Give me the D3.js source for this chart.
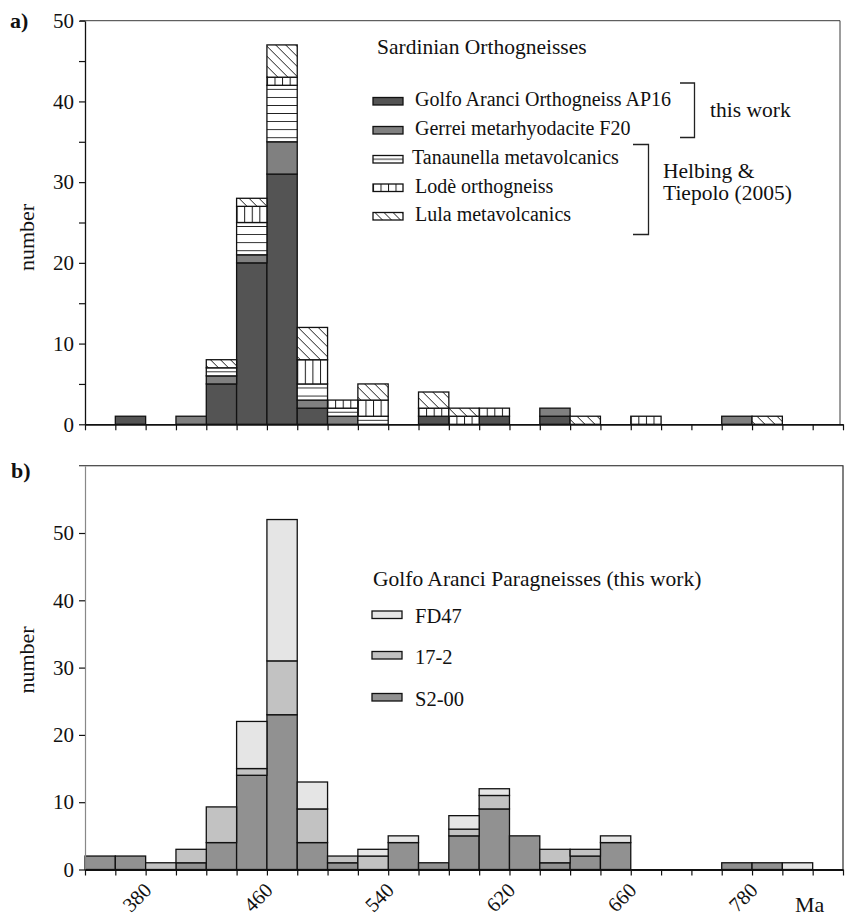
<!DOCTYPE html>
<html>
<head>
<meta charset="utf-8">
<script src="https://cdn.jsdelivr.net/npm/d3@7"></script>
<style>
  body { margin: 0; background: #fff; }
  svg { display: block; }
</style>
</head>
<body>
<svg id="chart" width="846" height="917"></svg>
<script>
// Lower bound (Ma) of each 20 Ma age bin
const binStarts = [340, 360, 380, 400, 420, 440, 460, 480, 500, 520, 540, 560, 580,
                   600, 620, 640, 660, 680, 700, 720, 740, 760, 780, 800, 820];
const binSize = 20;

// a) Sardinian orthogneisses: number of zircon ages per bin
const golfoAranciAP16 = [0, 1, 0, 0, 5, 20, 31, 2, 0, 0, 0, 1, 0, 1, 0, 1, 0, 0, 0, 0, 0, 0, 0, 0, 0];
const gerreiF20       = [0, 0, 0, 1, 1, 1, 4, 1, 1, 0, 0, 0, 0, 0, 0, 1, 0, 0, 0, 0, 0, 1, 0, 0, 0];
const tanaunella      = [0, 0, 0, 0, 1, 4, 7, 2, 1, 1, 0, 0, 0, 0, 0, 0, 0, 0, 0, 0, 0, 0, 0, 0, 0];
const lode            = [0, 0, 0, 0, 0, 2, 1, 3, 1, 2, 0, 1, 1, 1, 0, 0, 0, 0, 1, 0, 0, 0, 0, 0, 0];
const lula            = [0, 0, 0, 0, 1, 1, 4, 4, 0, 2, 0, 2, 1, 0, 0, 0, 1, 0, 0, 0, 0, 0, 1, 0, 0];

// b) Golfo Aranci paragneisses: number of zircon ages per bin
const s200  = [2, 2, 0, 1, 4, 14, 23, 4, 1, 0, 4, 1, 5, 9, 5, 1, 2, 4, 0, 0, 0, 1, 1, 0, 0];
const s172  = [0, 0, 1, 2, 5.3, 1, 8, 5, 1, 2, 0, 0, 1, 2, 0, 2, 1, 0, 0, 0, 0, 0, 0, 0, 0];
const fd47  = [0, 0, 0, 0, 0, 7, 21, 4, 0, 1, 1, 0, 2, 1, 0, 0, 0, 1, 0, 0, 0, 0, 0, 1, 0];

// Axis ticks
const countTicksA = [0, 5, 10, 15, 20, 25, 30, 35, 40, 45, 50];
const countTicksB = [0, 10, 20, 30, 40, 50];
const ageTickValues = [380, 460, 540, 620, 700, 780];
const ageTickLabels = ["380", "460", "540", "620", "660", "780"];

// Series names and fills
const seriesA = [
  { key: "ap16", name: "Golfo Aranci Orthogneiss AP16", values: golfoAranciAP16, fill: "#545454" },
  { key: "f20",  name: "Gerrei metarhyodacite F20",     values: gerreiF20,       fill: "#808080" },
  { key: "tan",  name: "Tanaunella metavolcanics",      values: tanaunella,      fill: "horiz" },
  { key: "lode", name: "Lodè orthogneiss",              values: lode,            fill: "vert" },
  { key: "lula", name: "Lula metavolcanics",            values: lula,            fill: "diag" }
];
const seriesB = [
  { key: "s200", name: "S2-00", values: s200, fill: "#919191" },
  { key: "s172", name: "17-2",  values: s172, fill: "#c2c2c2" },
  { key: "fd47", name: "FD47",  values: fd47, fill: "#e5e5e5" }
];
const legendOrderB = ["fd47", "s172", "s200"];

const serif = "'Liberation Serif', 'Times New Roman', Times, serif";
const svg = d3.select("#chart").attr("font-family", serif);
const defs = svg.append("defs");

// Shared age scale
const x = d3.scaleLinear().domain([340, 840]).range([85, 843]);
const binW = x(340 + binSize) - x(340);
const binEdges = binStarts.concat([binStarts[binStarts.length - 1] + binSize]);

// Hatch patterns (lines on white)
let patId = 0;
function hatch(kind, ox, oy, period) {
  const id = "hatch" + (patId++);
  const p = defs.append("pattern").attr("id", id).attr("patternUnits", "userSpaceOnUse")
    .attr("x", ox).attr("y", oy);
  const ink = "#1a1a1a";
  if (kind === "horiz") {
    p.attr("width", 40).attr("height", period);
    p.append("rect").attr("width", 40).attr("height", period).attr("fill", "#fff");
    p.append("line").attr("x1", 0).attr("x2", 40).attr("y1", period / 2).attr("y2", period / 2)
      .attr("stroke", ink).attr("stroke-width", 1);
  } else if (kind === "vert") {
    p.attr("width", period).attr("height", 40);
    p.append("rect").attr("width", period).attr("height", 40).attr("fill", "#fff");
    p.append("line").attr("x1", 0.5).attr("x2", 0.5).attr("y1", 0).attr("y2", 40)
      .attr("stroke", ink).attr("stroke-width", 1);
  } else {
    p.attr("width", period).attr("height", period);
    p.append("rect").attr("width", period).attr("height", period).attr("fill", "#fff");
    p.append("path")
      .attr("d", `M0,0L${period},${period}M${-period / 2},${period / 2}L${period / 2},${period * 1.5}M${period / 2},${-period / 2}L${period * 1.5},${period / 2}`)
      .attr("stroke", ink).attr("stroke-width", 1);
  }
  return `url(#${id})`;
}

function drawStack(g, series, y, fillFor) {
  const rows = binStarts.map((age, i) => {
    const r = { age };
    series.forEach(s => { r[s.key] = s.values[i]; });
    return r;
  });
  const layers = d3.stack().keys(series.map(s => s.key))(rows);
  layers.forEach((layer, i) => {
    g.append("g").selectAll("rect")
      .data(layer.filter(d => d[1] - d[0] > 0))
      .join("rect")
      .attr("x", d => x(d.data.age))
      .attr("width", d => x(d.data.age + binSize) - x(d.data.age))
      .attr("y", d => y(d[1]))
      .attr("height", d => y(d[0]) - y(d[1]))
      .attr("fill", fillFor(series[i]))
      .attr("stroke", "#111")
      .attr("stroke-width", 1.3);
  });
}

function styleAxis(g, size) {
  g.attr("font-family", serif).attr("font-size", size);
  g.selectAll("text").attr("fill", "#111");
  g.selectAll("line").attr("stroke", "#111").attr("stroke-width", 1.2);
  g.select(".domain").attr("stroke", "#111").attr("stroke-width", 1.3);
}

// ---------------- Panel a ----------------
const yA = d3.scaleLinear().domain([0, 50]).range([424.3, 20.7]);
const unitA = yA(0) - yA(1);
const gA = svg.append("g");

const fillA = s => {
  if (s.fill === "horiz") return hatch("horiz", 0, yA(0), unitA);
  if (s.fill === "vert") return hatch("vert", x(340), 0, binW / 4);
  if (s.fill === "diag") return hatch("diag", x(340), yA(0), 10);
  return s.fill;
};

// frame (top and right)
gA.append("path")
  .attr("d", `M${x(340) - 5},${yA(50)}H${x(840) - 3}V${yA(0)}`)
  .attr("fill", "none").attr("stroke", "#3a3a3a").attr("stroke-width", 1);

drawStack(gA, seriesA, yA, fillA);

const axLA = gA.append("g").attr("transform", `translate(${x(340)},0)`)
  .call(d3.axisLeft(yA).tickValues(countTicksA).tickSize(6).tickSizeOuter(0).tickPadding(5)
    .tickFormat(d => d % 10 === 0 ? d : ""));
styleAxis(axLA, 21);

const axBA = gA.append("g").attr("transform", `translate(0,${yA(0)})`)
  .call(d3.axisBottom(x).tickValues(binEdges).tickSize(6).tickSizeOuter(0).tickFormat(""));
styleAxis(axBA, 21);
axBA.select(".domain").attr("stroke-width", 1.8);

gA.append("text").attr("transform", `translate(33.5,${(yA(0) + yA(50)) / 2 + 15}) rotate(-90)`)
  .attr("text-anchor", "middle").attr("font-size", 22).attr("fill", "#111").text("number");
gA.append("text").attr("x", 10).attr("y", 28).attr("font-size", 22).attr("font-weight", "bold")
  .attr("fill", "#111").text("a)");

// legend a
const legA = gA.append("g");
legA.append("text").attr("x", 377).attr("y", 54).attr("font-size", 21.5).attr("fill", "#111")
  .text("Sardinian Orthogneisses");
const rowA = [106, 135, 164, 192.5, 221];
seriesA.forEach((s, i) => {
  const sy = rowA[i] - 8.5, sx = 373, sw = 30, sh = 7.5;
  let f = s.fill;
  if (f === "horiz") f = hatch("horiz", 0, sy, sh);
  else if (f === "vert") f = hatch("vert", sx, 0, sw / 4);
  else if (f === "diag") f = hatch("diag", sx + 2, sy, 9);
  legA.append("rect").attr("x", sx).attr("y", sy).attr("width", sw).attr("height", sh)
    .attr("fill", f).attr("stroke", "#111").attr("stroke-width", 1.3);
  legA.append("text").attr("x", i === 2 ? 412 : 415).attr("y", rowA[i]).attr("font-size", 20)
    .attr("fill", "#111").text(s.name);
});
legA.append("path").attr("d", "M680,83H694.5V137.5H680M633,144.5H648.5V234.5H633")
  .attr("fill", "none").attr("stroke", "#222").attr("stroke-width", 1.3);
legA.append("text").attr("x", 710).attr("y", 116.5).attr("font-size", 21.5).attr("fill", "#111").text("this work");
legA.append("text").attr("x", 663).attr("y", 177.5).attr("font-size", 21.5).attr("fill", "#111").text("Helbing &");
legA.append("text").attr("x", 663).attr("y", 200).attr("font-size", 21.5).attr("fill", "#111").text("Tiepolo (2005)");

// ---------------- Panel b ----------------
const yB = d3.scaleLinear().domain([0, 60]).range([869.5, 465.7]);
const gB = svg.append("g");

gB.append("path")
  .attr("d", `M${x(340) - 6},${yB(60)}H${x(840)}V${yB(0)}`)
  .attr("fill", "none").attr("stroke", "#1a1a1a").attr("stroke-width", 1.1);

drawStack(gB, seriesB, yB, s => s.fill);

const axLB = gB.append("g").attr("transform", `translate(${x(340)},0)`)
  .call(d3.axisLeft(yB).tickValues(countTicksB).tickSize(6).tickSizeOuter(0).tickPadding(5));
styleAxis(axLB, 21);
axLB.select(".domain").attr("stroke", "#888").attr("stroke-width", 1.2);

const axBB = gB.append("g").attr("transform", `translate(0,${yB(0)})`)
  .call(d3.axisBottom(x).tickValues(binEdges).tickSize(6).tickSizeOuter(0).tickFormat(""));
styleAxis(axBB, 21);
axBB.select(".domain").attr("stroke-width", 1.8);

// rotated age labels
gB.append("g").selectAll("text")
  .data(ageTickValues)
  .join("text")
  .attr("transform", d => `translate(${x(d) + 7},${yB(0) + 22}) rotate(-45)`)
  .attr("text-anchor", "end").attr("font-size", 20.5).attr("fill", "#111")
  .text((d, i) => ageTickLabels[i]);

gB.append("text").attr("x", 795).attr("y", 912).attr("font-size", 22).attr("fill", "#111").text("Ma");

gB.append("text").attr("transform", `translate(33.5,660) rotate(-90)`)
  .attr("text-anchor", "middle").attr("font-size", 22).attr("fill", "#111").text("number");
gB.append("text").attr("x", 11).attr("y", 478).attr("font-size", 22).attr("font-weight", "bold")
  .attr("fill", "#111").text("b)");

// legend b
const legB = gB.append("g");
legB.append("text").attr("x", 373).attr("y", 586).attr("font-size", 21.5).attr("fill", "#111")
  .text("Golfo Aranci Paragneisses (this work)");
const rowB = [623, 663.5, 705.5];
legendOrderB.forEach((k, i) => {
  const s = seriesB.find(d => d.key === k);
  legB.append("rect").attr("x", 372).attr("y", rowB[i] - 12).attr("width", 30).attr("height", 7.5)
    .attr("fill", s.fill).attr("stroke", "#111").attr("stroke-width", 1.3);
  legB.append("text").attr("x", 415).attr("y", rowB[i]).attr("font-size", 20.5).attr("fill", "#111").text(s.name);
});
</script>
</body>
</html>
